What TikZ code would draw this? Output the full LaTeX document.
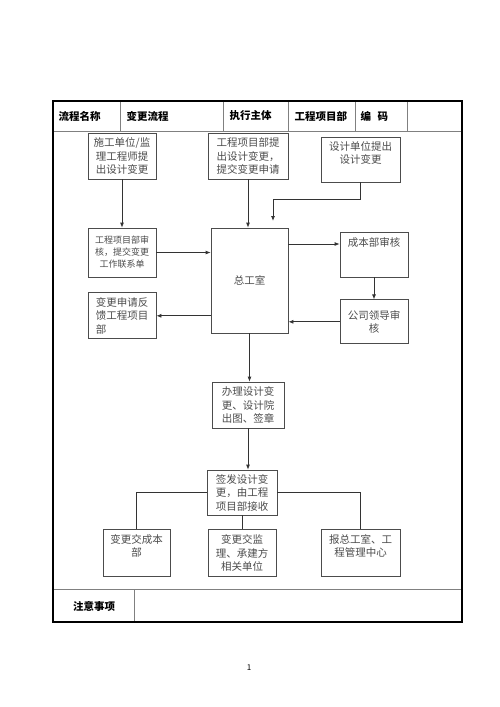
\documentclass[tikz,border=0pt]{standalone}
\usepackage{fontspec}
\setmainfont{Noto Sans CJK SC}
\usetikzlibrary{positioning}
\usetikzlibrary{arrows.meta}

\begin{document}
\begin{tikzpicture}[x=1pt, y=-1pt, black!75, line width=0.8pt,
    box/.style={draw=black!70, fill=white, align=center, inner sep=1pt,
        font=\fontsize{10.5pt}{13.5pt}\selectfont, text=black!70},
    link/.style={-{Latex[length=5pt,width=4pt]}, draw=black!80},
    wire/.style={draw=black!80},
    head/.style={anchor=west, font=\fontsize{10.5pt}{13pt}\selectfont\bfseries, text=black}]
    \useasboundingbox (0,0) rectangle (500,707);

    % frame and header
    \draw[black!50] (53,131) -- (462,131);
    \draw[black!50] (53,589) -- (462,589);
    \foreach \xx in {120,223,288,355,407}
        \draw[black!50] (\xx,101) -- (\xx,131);
    \draw[black!50] (134,589) -- (134,622);
    \draw[black, line width=1.6pt] (53,101) rectangle (462,622);

    \node (name) at (55,116) [head] {流程名称};
    \node (flow) at (123,116) [head] {变更流程};
    \node (owner) at (226,116) [head] {执行主体};
    \node (dept) at (291,116) [head] {工程项目部};
    \node (code) at (357,116) [head] {编\hspace{0.6em}码};
    \node (note) at (94,606) [head, anchor=center] {注意事项};

    % top row
    \node (A) at (122,156) [box, minimum width=68pt, minimum height=46pt] {施工单位/监\\理工程师提\\出设计变更};
    \node (B) at (248,156) [box, minimum width=80pt, minimum height=46pt] {工程项目部提\\出设计变更，\\提交变更申请};
    \node (C) at (360.5,159.5) [box, minimum width=79pt, minimum height=45pt] {设计单位提出\\设计变更\\[0pt]};

    % middle
    \node (E) at (249.5,280.5) [box, minimum width=77pt, minimum height=105pt] {总工室};
    \node (D) at (122,252.5) [box, minimum width=68pt, minimum height=49pt,
        font=\fontsize{9pt}{12pt}\selectfont] {工程项目部审\\核，提交变更\\工作联系单};
    \node (H) [box, below=15pt of D, minimum width=68pt, minimum height=46pt, align=left] {变更申请反\\馈工程项目\\部};
    \node (F) at (374,254.5) [box, minimum width=68pt, text height=13pt, text depth=30pt] {成本部审核};
    \node (G) [box, below=22pt of F, minimum width=68pt, minimum height=44pt] {公司领导审\\核};

    % lower part
    \node (I) at (248,405) [box, minimum width=72pt, minimum height=46pt] {办理设计变\\更、设计院\\出图、签章};
    \node (J) at (242,492.5) [box, minimum width=70pt, minimum height=45pt] {签发设计变\\更，由工程\\项目部接收};
    \node (K) at (136.5,552.5) [box, minimum width=67pt, minimum height=47pt] {变更交成本\\部\\[0pt]};
    \node (L) [box, below=14pt of J, minimum width=68pt, minimum height=47pt] {变更交监\\理、承建方\\相关单位};
    \node (M) at (360.5,552.5) [box, minimum width=79pt, minimum height=47pt] {报总工室、工\\程管理中心\\[0pt]};

    \coordinate (Cin) at (273,221);

    \draw[link] (A) -- (D);
    \draw[link] (B.south) -- (B.south |- E.north);
    \draw[link] (C.south) -- ++(0,17) -| (Cin);
    \draw[link] (D.east) -- (D.east -| E.west);
    \draw[link] ([yshift=10.5pt]F.west -| E.east) -- ([yshift=10.5pt]F.west);
    \draw[link] (F) -- (G);
    \draw[link] (G.west) -- (G.west -| E.east);
    \draw[link] (H.east -| E.west) -- (H.east);
    \draw[link] (E.south |- E.south) -- (E.south |- I.north);
    \draw[link] (I.south) -- (I.south |- J.north);

    \draw[wire] (J.west) -| (K.north);
    \draw[wire] (J) -- (L);
    \draw[wire] (J.east) -| (M.north);

    \node (page) at (249,668) [font=\fontsize{8pt}{9pt}\selectfont, text=black] {1};

\end{tikzpicture}
\end{document}
